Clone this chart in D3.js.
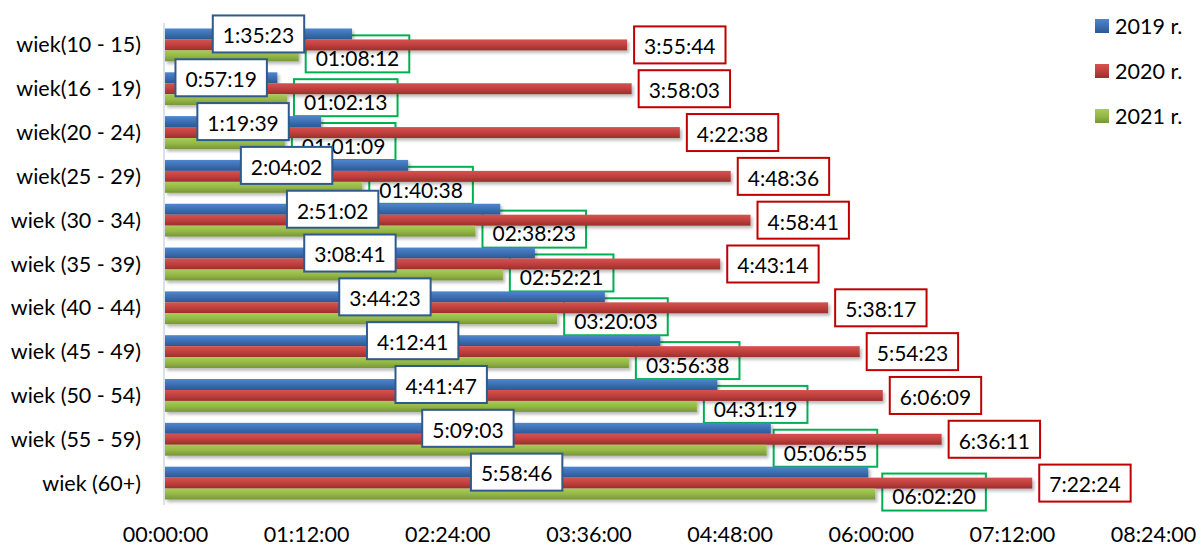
<!DOCTYPE html>
<html><head><meta charset="utf-8">
<script src="https://cdn.jsdelivr.net/npm/d3@7/dist/d3.min.js"></script>
<style>body{margin:0;background:#fff}svg{display:block}text{font-family:Lato,"Open Sans",sans-serif;fill:#000}</style>
</head><body><svg id="c" width="1201" height="546"></svg>
<script>
const categories = ["wiek(10 - 15)","wiek(16 - 19)","wiek(20 - 24)","wiek(25 - 29)","wiek (30 - 34)","wiek (35 - 39)","wiek (40 - 44)","wiek (45 - 49)","wiek (50 - 54)","wiek (55 - 59)","wiek (60+)"];
const v2019 = ["1:35:23","0:57:19","1:19:39","2:04:02","2:51:02","3:08:41","3:44:23","4:12:41","4:41:47","5:09:03","5:58:46"];
const v2020 = ["3:55:44","3:58:03","4:22:38","4:48:36","4:58:41","4:43:14","5:38:17","5:54:23","6:06:09","6:36:11","7:22:24"];
const v2021 = ["01:08:12","01:02:13","01:01:09","01:40:38","02:38:23","02:52:21","03:20:03","03:56:38","04:31:19","05:06:55","06:02:20"];
const seriesNames = ["2019 r.","2020 r.","2021 r."];
const tickMinutes = [0,72,144,216,288,360,432,504];

const toMin = s => { const p = s.split(":").map(Number); return p[0]*60 + p[1] + p[2]/60; };
const fmtTick = m => { const h = Math.floor(m/60), mm = m%60; return String(h).padStart(2,"0")+":"+String(mm).padStart(2,"0")+":00"; };

const series = [
  {name: seriesNames[0], vals: v2019, top:"#4f86cc", mid:"#3c6fb4", bot:"#2c5890", stroke:"#2f5a8c"},
  {name: seriesNames[1], vals: v2020, top:"#d65350", mid:"#c0403d", bot:"#9a2f2d", stroke:"#c00000"},
  {name: seriesNames[2], vals: v2021, top:"#a9cb57", mid:"#95b845", bot:"#76953a", stroke:"#00b050"}
];

const svg = d3.select("#c");
const defs = svg.append("defs");
series.forEach((s,i)=>{
  const g = defs.append("linearGradient").attr("id","g"+i).attr("x1",0).attr("y1",0).attr("x2",0).attr("y2",1);
  g.append("stop").attr("offset","0%").attr("stop-color",s.top);
  g.append("stop").attr("offset","50%").attr("stop-color",s.mid);
  g.append("stop").attr("offset","100%").attr("stop-color",s.bot);
});
const f = defs.append("filter").attr("id","sh").attr("x","-5%").attr("y","-50%").attr("width","115%").attr("height","250%");
f.append("feDropShadow").attr("dx",2).attr("dy",2.5).attr("stdDeviation",1.8).attr("flood-color","#000").attr("flood-opacity",0.28);

const x = d3.scaleLinear().domain([0,504]).range([165,1153]);
const y = d3.scaleBand().domain(categories).range([23,505]).paddingInner(0.25).paddingOuter(0.125);
const y1 = d3.scaleBand().domain([0,1,2]).range([0,y.bandwidth()]);

// axis line
svg.append("line").attr("x1",164).attr("x2",164).attr("y1",23).attr("y2",505).attr("stroke","#cdd8e6").attr("stroke-width",1.5);

// x axis labels
const xAxis = d3.axisBottom(x).tickValues(tickMinutes).tickFormat(fmtTick).tickSize(0).tickPadding(0);
const xg = svg.append("g").attr("transform","translate(0,527)").call(xAxis);
xg.select(".domain").remove();
xg.selectAll("text").attr("font-size",21.5).attr("font-family","Lato").attr("fill","#000").attr("dy","0.71em").attr("y",0);

// y axis labels
const yAxis = d3.axisLeft(y).tickSize(0).tickPadding(0);
const yg = svg.append("g").attr("transform","translate(141,0)").call(yAxis);
yg.select(".domain").remove();
yg.selectAll("text").attr("font-size",21.5).attr("font-family","Lato").attr("fill","#000").attr("dy","0.35em");

function labelBox(g, cx, cy, text, stroke, anchor, tdy) {
  const gg = g.append("g");
  const r = gg.append("rect");
  const t = gg.append("text").attr("font-size",21).attr("dy","0.35em").text(text);
  const w = t.node().getComputedTextLength() + 20, h = 37;
  const left = anchor === "start" ? cx : cx - w/2;
  r.attr("x",left).attr("y",cy-h/2).attr("width",w).attr("height",h).attr("fill","#fff").attr("stroke",stroke).attr("stroke-width",2);
  t.attr("x",left + w/2).attr("y",cy+tdy).attr("text-anchor","middle");
}

// green labels (beneath bars)
const gLab = svg.append("g");
categories.forEach((c,i)=>{
  const v = toMin(v2021[i]);
  const cy = y(c) + y1(2) + y1.bandwidth()/2;
  labelBox(gLab, x(v)+7, cy-2, v2021[i], series[2].stroke, "start", 5);
});

// bars
const gb = svg.append("g").attr("filter","url(#sh)");
series.forEach((s,si)=>{
  gb.selectAll(null).data(categories).join("rect")
    .attr("x",x(0)).attr("y",c=>y(c)+y1(si))
    .attr("width",(c,i)=>x(toMin(s.vals[i]))-x(0))
    .attr("height",y1.bandwidth())
    .attr("fill","url(#g"+si+")");
});

// blue labels (centered)
const bLab = svg.append("g");
categories.forEach((c,i)=>{
  const v = toMin(v2019[i]);
  const cy = y(c) + y1(0) + y1.bandwidth()/2;
  labelBox(bLab, (x(0)+x(v))/2, cy, v2019[i], series[0].stroke, "middle", 2);
});
// red labels
const rLab = svg.append("g");
categories.forEach((c,i)=>{
  const v = toMin(v2020[i]);
  const cy = y(c) + y1(1) + y1.bandwidth()/2;
  labelBox(rLab, x(v)+7, cy, v2020[i], series[1].stroke, "start", 2);
});

// legend
const lg = svg.append("g");
series.forEach((s,i)=>{
  const cy = 26 + i*45;
  lg.append("rect").attr("x",1095).attr("y",cy-7).attr("width",14).attr("height",14).attr("fill","url(#g"+i+")");
  lg.append("text").attr("x",1115).attr("y",cy).attr("dy","0.35em").attr("font-size",21.5).text(s.name);
});
</script></body></html>
